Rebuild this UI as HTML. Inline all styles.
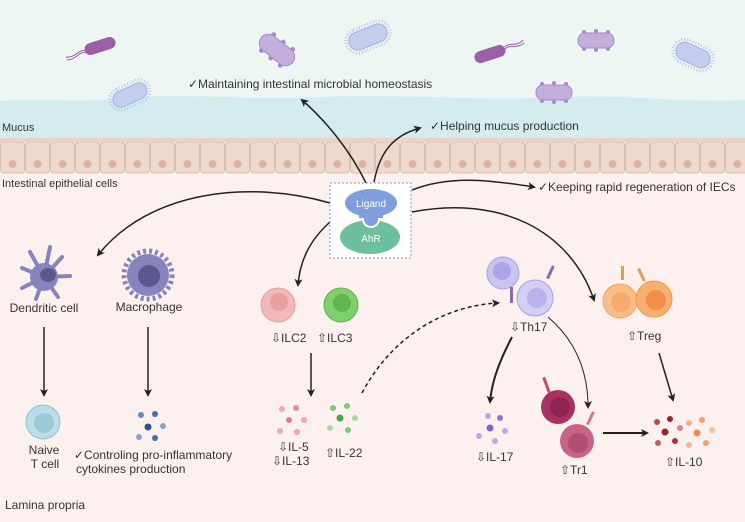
<!DOCTYPE html>
<html><head><meta charset="utf-8"><style>
html,body{margin:0;padding:0;width:745px;height:522px;overflow:hidden;background:#fdf1f0}
svg{display:block}
text{font-family:"Liberation Sans",sans-serif;fill:#333}
</style></head><body>
<svg width="745" height="522" viewBox="0 0 745 522" xmlns="http://www.w3.org/2000/svg">
<defs>
<marker id="ah" markerWidth="8" markerHeight="8" refX="6" refY="4" orient="auto" markerUnits="userSpaceOnUse"><path d="M0,0 L8,4 L0,8 L2,4 Z" fill="#222"/></marker>
<pattern id="cells" x="0" y="142" width="25" height="32" patternUnits="userSpaceOnUse">
<rect x="0.5" y="0" width="24" height="31" rx="3" fill="#efd9cf" stroke="#d8bfb3" stroke-width="1"/>
<circle cx="12.5" cy="22" r="4" fill="#dbb4a6"/>
</pattern>
</defs>
<rect width="745" height="522" fill="#fdf1f0"/>
<rect width="745" height="140" fill="#d5ecef"/>
<path d="M0,0 H745 V100 C680,103 620,94 560,97 C480,102 400,93 320,97 C240,101 190,92 130,98 C80,103 40,98 0,101 Z" fill="#eef6f4"/>
<rect x="0" y="138" width="745" height="4" fill="#e8d4ca"/>
<rect x="0" y="142" width="745" height="32" fill="url(#cells)"/>
<text x="2" y="131" font-size="11">Mucus</text>
<text x="2" y="187" font-size="11">Intestinal epithelial cells</text>
<!-- bacteria -->
<g transform="translate(100,46) rotate(-18)"><rect x="-16" y="-6" width="32" height="12" rx="6" fill="#9a5fa8"/><path d="M-16,0 C-22,-4 -26,4 -36,0 M-16,2 C-22,-2 -26,6 -36,3" stroke="#9a5fa8" fill="none"/></g>
<g transform="translate(490,54) rotate(-18)"><rect x="-16" y="-6" width="32" height="12" rx="6" fill="#9a5fa8"/><path d="M16,0 C22,-4 26,4 36,0 M16,-2 C22,-6 26,2 36,-3" stroke="#9a5fa8" fill="none"/></g>
<g transform="translate(277,50) rotate(38)"><g fill="#a58bc9"><circle cx="-12" cy="-10" r="2.5"/><circle cx="0" cy="-10" r="2.5"/><circle cx="12" cy="-10" r="2.5"/><circle cx="-12" cy="10" r="2.5"/><circle cx="0" cy="10" r="2.5"/><circle cx="12" cy="10" r="2.5"/></g><rect x="-20" y="-9" width="40" height="18" rx="9" fill="#c4afdc" stroke="#a58bc9"/></g>
<g transform="translate(368,37) rotate(-22)"><rect x="-23" y="-12" width="46" height="24" rx="12" fill="none" stroke="#b8c5ee" stroke-dasharray="1,2" stroke-width="3"/><rect x="-20" y="-9" width="40" height="18" rx="9" fill="#c5cdee" stroke="#9db0e2"/></g>
<g transform="translate(130,95) rotate(-25)"><rect x="-21" y="-11" width="42" height="22" rx="11" fill="none" stroke="#b8c5ee" stroke-dasharray="1,2" stroke-width="3"/><rect x="-18" y="-8" width="36" height="16" rx="8" fill="#c5cdee" stroke="#9db0e2"/></g>
<g transform="translate(693,55) rotate(25)"><rect x="-21" y="-12" width="42" height="24" rx="12" fill="none" stroke="#b8c5ee" stroke-dasharray="1,2" stroke-width="3"/><rect x="-18" y="-9" width="36" height="18" rx="9" fill="#c5cdee" stroke="#9db0e2"/></g>
<g fill="#a58bc9"><circle cx="584" cy="32" r="2"/><circle cx="596" cy="31" r="2"/><circle cx="608" cy="32" r="2"/><circle cx="584" cy="49" r="2"/><circle cx="596" cy="50" r="2"/><circle cx="608" cy="49" r="2"/>
<circle cx="542" cy="84" r="2"/><circle cx="554" cy="83" r="2"/><circle cx="566" cy="84" r="2"/><circle cx="542" cy="101" r="2"/><circle cx="554" cy="102" r="2"/><circle cx="566" cy="101" r="2"/></g>
<rect x="578" y="33" width="36" height="15" rx="7" fill="#c4afdc" stroke="#a58bc9"/>
<rect x="536" y="85" width="36" height="15" rx="7" fill="#c4afdc" stroke="#a58bc9"/>
<text x="188" y="88" font-size="12">✓Maintaining intestinal microbial homeostasis</text>
<text x="430" y="130" font-size="12">✓Helping mucus production</text>
<text x="538" y="191" font-size="12">✓Keeping rapid regeneration of IECs</text>
<!-- arrows -->
<g fill="none" stroke="#222" stroke-width="1.5" marker-end="url(#ah)">
<path d="M366,183 C350,150 325,120 302,100"/>
<path d="M374,182 C380,150 395,135 420,128"/>
<path d="M412,190 C450,175 490,180 534,187"/>
<path d="M330,203 C250,180 150,190 98,255"/>
<path d="M330,222 C310,240 300,260 298,285"/>
<path d="M412,212 C500,195 570,230 594,300"/>
<path d="M44,327 V395"/>
<path d="M148,327 V395"/>
<path d="M311,353 V395"/>
<path d="M512,337 C500,360 492,380 490,402" stroke-width="2"/>
<path d="M548,317 C575,340 588,370 588,407" stroke-width="1"/>
<path d="M659,353 L673,400"/>
<path d="M603,433 L647,433" stroke-width="2"/>
<path d="M362,393 C390,340 440,306 498,303" stroke-dasharray="4,3"/>
</g>
<!-- AhR box -->
<rect x="330" y="183" width="81" height="75" fill="#fff" stroke="#8a9bd0" stroke-dasharray="2,2"/>
<ellipse cx="370" cy="237" rx="30" ry="17" fill="#6dbf9e"/>
<ellipse cx="371" cy="203" rx="26" ry="14" fill="#7e9ee0"/>
<circle cx="371" cy="219" r="8" fill="#7e9ee0" stroke="#fff" stroke-width="2"/>
<rect x="359" y="208" width="24" height="10" fill="#7e9ee0"/>
<text x="371" y="207" font-size="10" text-anchor="middle" style="fill:#fff">Ligand</text>
<text x="371" y="242" font-size="10" text-anchor="middle" style="fill:#fff">AhR</text>
<!-- DC & macrophage -->
<g stroke="#8683bf" stroke-width="4" stroke-linecap="round" fill="none"><path d="M44,277 L50,247 M44,277 L62,257 M44,277 L70,276 M44,277 L58,297 M44,277 L36,299 M44,277 L22,288 M44,277 L22,268 M44,277 L30,252"/></g>
<circle cx="44" cy="277" r="14" fill="#8683bf"/><ellipse cx="48" cy="275" rx="8" ry="7" fill="#5b588f"/>
<circle cx="148" cy="275" r="24" fill="none" stroke="#8683bf" stroke-width="5" stroke-dasharray="3,3"/>
<circle cx="148" cy="275" r="21" fill="#8683bf"/><circle cx="149" cy="276" r="11" fill="#5b588f"/>
<text x="44" y="312" font-size="12" text-anchor="middle">Dendritic cell</text>
<text x="149" y="311" font-size="12" text-anchor="middle">Macrophage</text>
<circle cx="43" cy="422" r="17" fill="#bcdde6" stroke="#8fbfcf"/><circle cx="44" cy="423" r="10" fill="#9cc8d8"/>
<text x="44" y="454" font-size="12" text-anchor="middle">Naive</text>
<text x="45" y="468" font-size="12" text-anchor="middle">T cell</text>
<g fill="#4a6aa8"><circle cx="141" cy="415" r="3" fill="#6a86bd"/><circle cx="155" cy="414" r="3"/><circle cx="148" cy="427" r="3.5" fill="#2e4f94"/><circle cx="163" cy="426" r="3" fill="#8aa0cf"/><circle cx="139" cy="437" r="3" fill="#8aa0cf"/><circle cx="155" cy="438" r="3"/></g>
<text x="74" y="459" font-size="12">✓Controling pro-inflammatory</text>
<text x="76" y="473" font-size="12">cytokines production</text>
<!-- ILCs -->
<circle cx="278" cy="305" r="17" fill="#f3b8b8" stroke="#e39d9d"/><circle cx="279" cy="302" r="9" fill="#e9a0a3"/>
<circle cx="341" cy="305" r="17" fill="#7fd06c" stroke="#5cb24c"/><circle cx="342" cy="303" r="9" fill="#62b553"/>
<text x="271" y="342" font-size="12">⇩ILC2</text>
<text x="317" y="342" font-size="12">⇧ILC3</text>
<g fill="#f0a7b8"><circle cx="282" cy="409" r="3"/><circle cx="296" cy="408" r="3" fill="#e88aa3"/><circle cx="289" cy="420" r="3" fill="#e47a98"/><circle cx="304" cy="420" r="3"/><circle cx="280" cy="431" r="3"/><circle cx="297" cy="432" r="3" fill="#f2a0b2"/></g>
<g fill="#7fc57a"><circle cx="333" cy="408" r="3"/><circle cx="347" cy="406" r="3"/><circle cx="340" cy="418" r="3.5" fill="#4fa54a"/><circle cx="355" cy="418" r="3" fill="#a9d9a2"/><circle cx="330" cy="428" r="3" fill="#a9d9a2"/><circle cx="348" cy="430" r="3"/></g>
<text x="278" y="451" font-size="12">⇩IL-5</text>
<text x="272" y="465" font-size="12">⇩IL-13</text>
<text x="325" y="457" font-size="12">⇧IL-22</text>
<!-- Th17 -->
<circle cx="503" cy="273" r="16" fill="#c9c3f0" stroke="#a79fe0"/><circle cx="502" cy="271" r="9" fill="#aca4e6"/>
<rect x="510" y="287" width="3" height="16" fill="#8a6aaa"/><rect x="549" y="265" width="3" height="14" fill="#8a6aaa" transform="rotate(25 550 272)"/>
<circle cx="535" cy="298" r="18" fill="#d3cef6" stroke="#a79fe0"/><circle cx="537" cy="298" r="10" fill="#b9b2ec"/>
<text x="510" y="331" font-size="12">⇩Th17</text>
<!-- Treg -->
<rect x="621" y="266" width="3" height="14" fill="#e0a050"/><rect x="640" y="268" width="3" height="14" fill="#e0a050" transform="rotate(-25 641 275)"/>
<circle cx="620" cy="301" r="17" fill="#f9bf86" stroke="#f2a461"/><circle cx="621" cy="302" r="10" fill="#f5ab70"/>
<circle cx="654" cy="299" r="18" fill="#f9b06e" stroke="#f0974d"/><circle cx="656" cy="300" r="10" fill="#f08e4c"/>
<text x="627" y="340" font-size="12">⇧Treg</text>
<!-- IL-17 -->
<g fill="#b7aae6"><circle cx="488" cy="416" r="3"/><circle cx="500" cy="418" r="3" fill="#8a78d6"/><circle cx="490" cy="428" r="3.5" fill="#7a66cc"/><circle cx="505" cy="431" r="3"/><circle cx="479" cy="436" r="3"/><circle cx="495" cy="441" r="3"/></g>
<text x="476" y="461" font-size="12">⇩IL-17</text>
<!-- Tr1 -->
<rect x="545" y="377" width="3" height="16" fill="#b84f76" transform="rotate(-20 546 385)"/>
<circle cx="558" cy="407" r="17" fill="#a8325f"/><circle cx="560" cy="407" r="10" fill="#8e2350"/>
<rect x="589" y="411" width="3" height="14" fill="#d07a98" transform="rotate(25 590 418)"/>
<circle cx="577" cy="441" r="17" fill="#c86488"/><circle cx="578" cy="443" r="10" fill="#b04e74"/>
<text x="560" y="474" font-size="12">⇧Tr1</text>
<!-- IL-10 -->
<g><circle cx="657" cy="422" r="3" fill="#b84a4a"/><circle cx="670" cy="419" r="3" fill="#a02030"/><circle cx="680" cy="428" r="3" fill="#d08a8a"/><circle cx="689" cy="423" r="3" fill="#f3b08a"/><circle cx="702" cy="420" r="3" fill="#f0a070"/><circle cx="712" cy="430" r="3" fill="#f8c0a0"/><circle cx="665" cy="432" r="3.5" fill="#a02030"/><circle cx="697" cy="433" r="3.5" fill="#f08a50"/><circle cx="658" cy="443" r="3" fill="#c06060"/><circle cx="675" cy="441" r="3" fill="#b02e3e"/><circle cx="689" cy="445" r="3" fill="#f3b5a0"/><circle cx="706" cy="443" r="3" fill="#f0a070"/></g>
<text x="665" y="466" font-size="12">⇧IL-10</text>
<text x="5" y="509" font-size="12">Lamina propria</text>
</svg>
</body></html>
